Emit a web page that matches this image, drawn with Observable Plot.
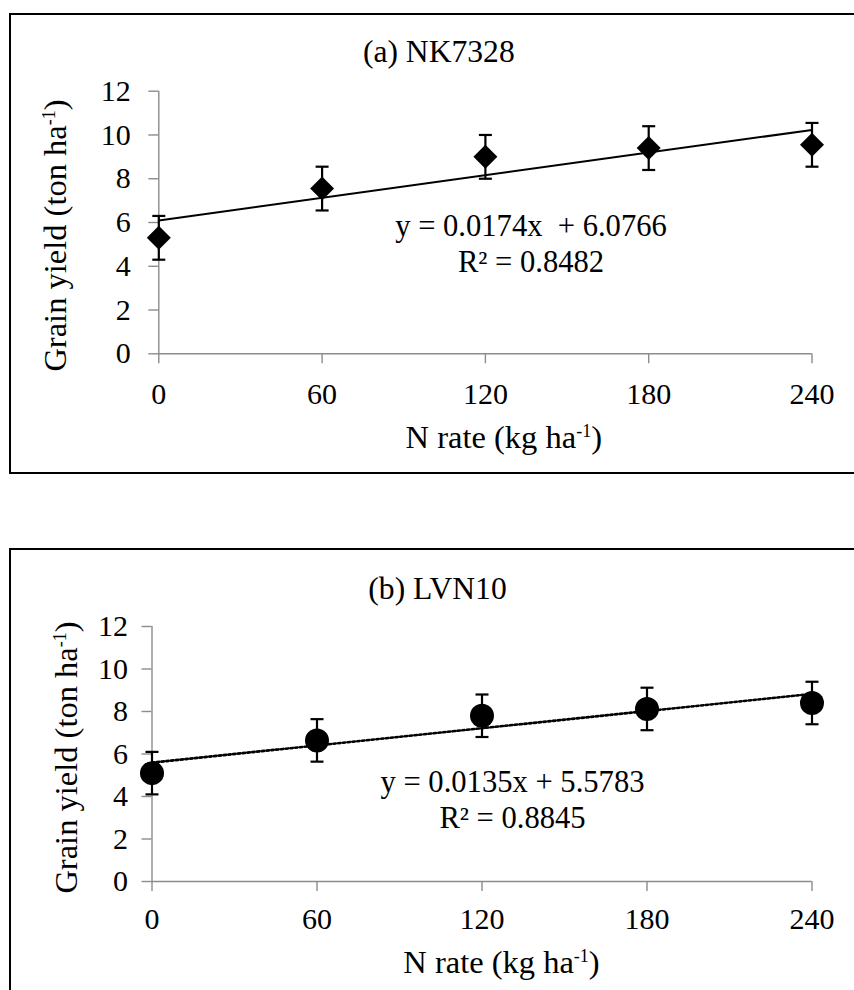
<!DOCTYPE html>
<html><head><meta charset="utf-8">
<script src="https://cdn.jsdelivr.net/npm/d3@7"></script>
<script src="https://cdn.jsdelivr.net/npm/@observablehq/plot@0.6"></script>
<style>
html,body{margin:0;padding:0;background:#fff;}
#page{position:relative;width:854px;height:990px;overflow:hidden;background:#fff;font-family:"Liberation Serif",serif;}
.panel{position:absolute;left:9px;width:900px;box-sizing:border-box;border-left:2px solid #000;border-top:2px solid #000;border-bottom:2px solid #000;}
.chart{position:absolute;left:0;}
.chart svg{overflow:visible;}
</style></head><body><div id="page">
<div class="panel" style="top:13px;height:460.5px"></div>
<div class="panel" style="top:548px;height:500px"></div>
<div class="chart" id="c1" style="top:0px"></div>
<div class="chart" id="c2" style="top:500px"></div>
</div>
<script>
// ---- data ----
const nRates = [0, 60, 120, 180, 240];
const yieldNK7328 = [5.3, 7.55, 9.0, 9.4, 9.55];
const errNK7328 = [1.0, 1.0, 1.0, 1.0, 1.0];
const yieldLVN10 = [5.1, 6.64, 7.8, 8.12, 8.4];
const errLVN10 = [1.0, 1.0, 1.0, 1.0, 1.0];
const xTicks = [0, 60, 120, 180, 240];
const yTicks = [0, 2, 4, 6, 8, 10, 12];
const titleA = "(a) NK7328";
const titleB = "(b) LVN10";
const eqA = ["y = 0.0174x  + 6.0766", "R\u00B2 = 0.8482"];
const eqB = ["y = 0.0135x + 5.5783", "R\u00B2 = 0.8845"];
const xLabel = "N rate (kg ha^-1)";
const yLabel = "Grain yield (ton ha^-1)";

const capSymbol = {draw(ctx) { ctx.moveTo(-6.5, 0); ctx.lineTo(6.5, 0); }};
const axisGray = "#8c8c8c";

function supFix(svg) {
  svg.querySelectorAll("text").forEach(t => {
    if (!t.textContent.includes("^-1")) return;
    const [a, b] = t.textContent.split("^-1");
    t.textContent = "";
    const ns = "http://www.w3.org/2000/svg";
    const t1 = document.createElementNS(ns, "tspan"); t1.textContent = a;
    const t2 = document.createElementNS(ns, "tspan"); t2.textContent = "-1";
    t2.setAttribute("font-size", "18px"); t2.setAttribute("dy", "-10.5");
    const t3 = document.createElementNS(ns, "tspan"); t3.textContent = b;
    t3.setAttribute("dy", "10.5");
    t.append(t1, t2, t3);
  });
}

function panel(cfg) {
  const data = nRates.map((x, i) => ({x, y: cfg.values[i], e: cfg.errors[i]}));
  const caps = data.flatMap(d => [{x: d.x, y: d.y + d.e}, {x: d.x, y: d.y - d.e}]);
  const ml = cfg.ml, mt = cfg.mt;
  const at = (px, py) => ({frameAnchor: "top-left", dx: px - ml, dy: py - mt});
  const svg = Plot.plot({
    width: 854, height: cfg.height,
    marginLeft: ml, marginRight: cfg.mr, marginTop: mt, marginBottom: cfg.mb,
    style: {fontFamily: "'Liberation Serif', serif", fontSize: "30px", color: "#000", background: "transparent"},
    x: {domain: [0, 240]},
    y: {domain: [0, 12]},
    marks: [
      Plot.ruleY([0], {stroke: axisGray, strokeWidth: 1.4}),
      Plot.ruleX([0], {stroke: axisGray, strokeWidth: 1.4}),
      Plot.axisX({ticks: xTicks, tickSize: 10, tickPadding: cfg.xPad, stroke: axisGray, strokeWidth: 1.4, label: null, tickFormat: d => String(d)}),
      Plot.axisY({ticks: yTicks, tickSize: 10, tickPadding: cfg.yPad, stroke: axisGray, strokeWidth: 1.4, label: null, tickFormat: d => String(d)}),
      Plot.linearRegressionY(data, {x: "x", y: "y", ci: 0, stroke: "#000", strokeWidth: cfg.lineWidth, strokeDasharray: cfg.dash}),
      Plot.ruleX(data, {x: "x", y1: d => d.y - d.e, y2: d => d.y + d.e, stroke: "#000", strokeWidth: 2.2}),
      Plot.dot(caps, {x: "x", y: "y", symbol: capSymbol, r: 5, stroke: "#000", strokeWidth: 2.2, fill: "none"}),
      Plot.dot(data, {x: "x", y: "y", symbol: cfg.symbol, r: cfg.r, fill: "#000", stroke: "none"}),
      Plot.text([cfg.title], {text: d => d, ...at(cfg.titleX, cfg.titleY), textAnchor: "middle", lineAnchor: "bottom", fontSize: 31.6}),
      Plot.text([cfg.eq[0]], {text: d => d, ...at(cfg.eqX, cfg.eqY), textAnchor: "middle", lineAnchor: "bottom", fontSize: 30.6}),
      Plot.text([cfg.eq[1]], {text: d => d, ...at(cfg.eqX, cfg.eqY + 36.7), textAnchor: "middle", lineAnchor: "bottom", fontSize: 30.6}),
      Plot.text([xLabel], {text: d => d, ...at(cfg.xlX, cfg.xlY), textAnchor: "middle", lineAnchor: "bottom", fontSize: 32.5}),
      Plot.text([yLabel], {text: d => d, ...at(cfg.ylX, cfg.ylY), textAnchor: "middle", lineAnchor: "bottom", rotate: -90, fontSize: 32.5})
    ]
  });
  supFix(svg);
  return svg;
}

document.getElementById("c1").append(panel({
  values: yieldNK7328, errors: errNK7328,
  height: 480, ml: 158.3, mr: 42.5, mt: 90.7, mb: 126.7,
  xPad: 18.4, yPad: 18,
  symbol: "diamond2", r: 10.8, lineWidth: 2, dash: null,
  title: titleA, titleX: 438.3, titleY: 62,
  eq: eqA, eqX: 530.5, eqY: 235,
  xlX: 503.3, xlY: 447,
  ylX: 65, ylY: 235
}));

document.getElementById("c2").append(panel({
  values: yieldLVN10, errors: errLVN10,
  height: 490, ml: 151.5, mr: 42.5, mt: 126, mb: 109,
  xPad: 15.7, yPad: 14,
  symbol: "circle", r: 12, lineWidth: 2.6, dash: "2.4,2.4",
  title: titleB, titleX: 437, titleY: 98,
  eq: eqB, eqX: 512, eqY: 291,
  xlX: 501, xlY: 472,
  ylX: 76, ylY: 257
}));
</script>
</body></html>
